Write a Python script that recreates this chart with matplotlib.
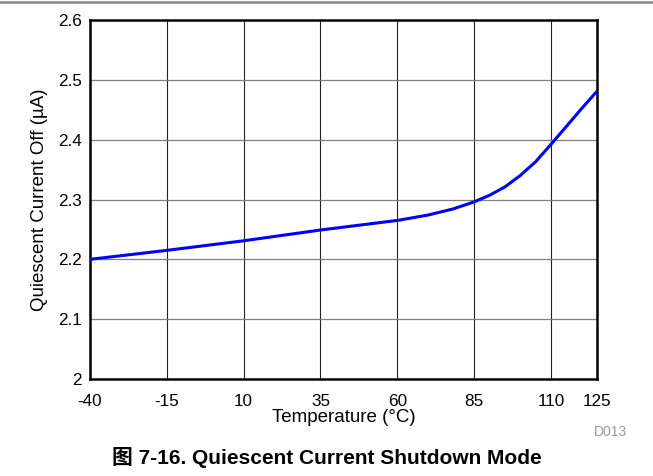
import matplotlib
matplotlib.use("Agg")
import matplotlib.pyplot as plt
from matplotlib.lines import Line2D

plt.rcParams["font.family"] = ["Liberation Sans", "Noto Sans CJK SC", "DejaVu Sans"]
plt.rcParams["font.size"] = 12
plt.rcParams["axes.unicode_minus"] = False

# temperature (°C) vs quiescent current off (µA)
temp = [-40, -15, 10, 35, 60, 70, 78, 85, 90, 95, 100, 105, 110, 115, 120, 125]
iq_off = [2.200, 2.215, 2.231, 2.249, 2.265, 2.274, 2.284, 2.296, 2.307, 2.321,
          2.340, 2.363, 2.392, 2.422, 2.452, 2.481]

xticks = [-40, -15, 10, 35, 60, 85, 110, 125]
yticks = [2.0, 2.1, 2.2, 2.3, 2.4, 2.5, 2.6]
ytick_labels = ["2", "2.1", "2.2", "2.3", "2.4", "2.5", "2.6"]

fig = plt.figure(figsize=(6.53, 4.76), dpi=100)
ax = fig.add_axes([90 / 653, 1 - 379 / 476, 507 / 653, 359 / 476])

for x in xticks[1:-1]:
    ax.axvline(x, color="#222222", lw=0.8, zorder=1)
for y in yticks[1:-1]:
    ax.axhline(y, color="#808080", lw=0.9, zorder=1)

ax.plot(temp, iq_off, color="#0000ff", lw=2.2, zorder=3, solid_capstyle="butt")

ax.set_xlim(-40, 125)
ax.set_ylim(2.0, 2.6)
ax.set_xticks(xticks)
ax.set_yticks(yticks)
ax.set_yticklabels(ytick_labels)
ax.tick_params(length=0, labelsize=12.3)
ax.tick_params(axis="x", pad=11)
ax.tick_params(axis="y", pad=6)
for s in ax.spines.values():
    s.set_linewidth(1.8)
    s.set_color("black")

ax.set_xlabel("Temperature (°C)", fontsize=13.5, labelpad=0)
ax.set_ylabel("Quiescent Current Off (µA)", fontsize=13.5, labelpad=7)

fig.text(610 / 653, 1 - 432 / 476, "D013", color="#999999",
         fontsize=10, ha="center", va="center")
fig.text(0.5, 1 - 458 / 476, "图 7-16. Quiescent Current Shutdown Mode",
         fontsize=15, fontweight="bold", ha="center", va="center")

# grey rule across the top of the figure
fig.add_artist(Line2D([0, 1], [1 - 2 / 476, 1 - 2 / 476], color="#888888",
                      lw=1.8, transform=fig.transFigure))

fig.savefig("out.png", dpi=100)
